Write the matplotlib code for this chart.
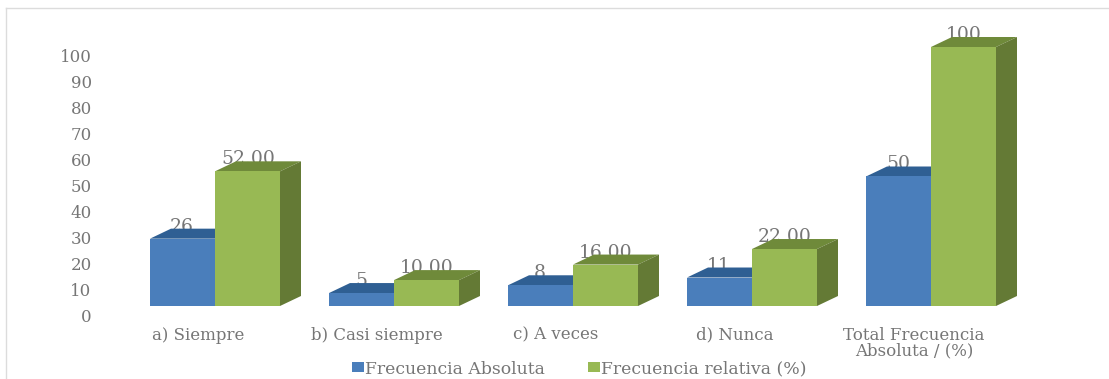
import matplotlib
matplotlib.use("Agg")
from matplotlib import pyplot as plt
from matplotlib.patches import Patch, Polygon
from matplotlib.lines import Line2D
from matplotlib.transforms import ScaledTranslation

categories = ["a) Siempre", "b) Casi siempre", "c) A veces", "d) Nunca",
              "Total Frecuencia\nAbsoluta / (%)"]
absoluta = [26, 5, 8, 11, 50]
relativa = [52, 10, 16, 22, 100]
absoluta_labels = ["26", "5", "8", "11", "50"]
relativa_labels = ["52.00", "10.00", "16.00", "22.00", "100"]
y_ticks = [0, 10, 20, 30, 40, 50, 60, 70, 80, 90, 100]
series_names = ["Frecuencia Absoluta", "Frecuencia relativa (%)"]

W, H = 1109, 379
TEXT = "#767676"
BLUE, BLUE_TOP = "#4a7ebb", "#2f5f93"
GREEN, GREEN_TOP, GREEN_SIDE = "#98b954", "#6f8a3a", "#647a35"

plt.rcParams["font.family"] = ["DejaVu Serif"]
plt.rcParams["font.size"] = 12

fig = plt.figure(figsize=(W / 100, H / 100), dpi=100, facecolor="white")

# axes placed by pixels: baseline at y=306, 100 at y=47, groups 179px apart
left, right, top, bottom = 100, 1060, 20, 306
ax = fig.add_axes([left / W, 1 - bottom / H, (right - left) / W, (bottom - top) / H])
px_y = 2.59
px_x = 179.0
ax.set_xlim((left - 215) / px_x, (right - 215) / px_x)
ax.set_ylim(0, (bottom - top) / px_y)
ax.patch.set_alpha(0)
for s in ax.spines.values():
    s.set_visible(False)

bw = 65 / px_x
dx = 21 / px_x
dy = 10 / px_y


def draw_bars(xs, vals, front, top_col, side_col, z):
    ax.bar(xs, vals, width=bw, align="edge", color=front, linewidth=0, zorder=z + 0.2)
    for x, v in zip(xs, vals):
        ax.add_patch(Polygon([(x, v), (x + dx, v + dy), (x + bw + dx, v + dy), (x + bw, v)],
                             closed=True, fc=top_col, ec="none", zorder=z))
        if side_col:
            ax.add_patch(Polygon([(x + bw, 0), (x + bw + dx, dy), (x + bw + dx, v + dy), (x + bw, v)],
                                 closed=True, fc=side_col, ec="none", zorder=z))


pos = list(range(len(categories)))
draw_bars([p - bw for p in pos], absoluta, BLUE, BLUE_TOP, None, 3)
draw_bars(pos, relativa, GREEN, GREEN_TOP, GREEN_SIDE, 4)

# value labels sit behind the top faces, like in the original
for p, v, s in zip(pos, absoluta, absoluta_labels):
    ax.annotate(s, (p - bw, v), xytext=(32, 12), textcoords="offset pixels", ha="center",
                va="center", color=TEXT, fontsize=13.5, zorder=2)
for p, v, s in zip(pos, relativa, relativa_labels):
    ax.annotate(s, (p, v), xytext=(33, 12), textcoords="offset pixels", ha="center",
                va="center", color=TEXT, fontsize=13.5, zorder=2)

ax.set_yticks(y_ticks)
ax.set_xticks(pos)
ax.set_xticklabels(categories, linespacing=0.85)
ax.tick_params(axis="both", length=0, labelcolor=TEXT)
ax.tick_params(axis="y", pad=6)
ax.tick_params(axis="x", pad=15)

# the axis labels of the 3D chart are shifted off the front plane
for lab in ax.get_yticklabels():
    lab.set_transform(lab.get_transform() + ScaledTranslation(0, -9 / 100, fig.dpi_scale_trans))
for lab in ax.get_xticklabels():
    lab.set_transform(lab.get_transform() + ScaledTranslation(-17 / 100, 0, fig.dpi_scale_trans))

handles = [Patch(fc=BLUE, ec="none"), Patch(fc=GREEN, ec="none")]
fig.legend(handles, series_names, ncol=2, loc="center", bbox_to_anchor=(579 / W, 1 - 369 / H),
           frameon=False, handlelength=0.7, handleheight=0.5, handletextpad=0.05,
           columnspacing=2.5, labelcolor=TEXT, fontsize=12.4, borderpad=0)

# picture frame
frame = "#dcdcdc"
fig.add_artist(Line2D([6 / W, 1], [1 - 8 / H, 1 - 8 / H], color=frame, lw=1))
fig.add_artist(Line2D([6 / W, 6 / W], [0, 1 - 8 / H], color=frame, lw=1))

fig.savefig("out.png", dpi=100)
